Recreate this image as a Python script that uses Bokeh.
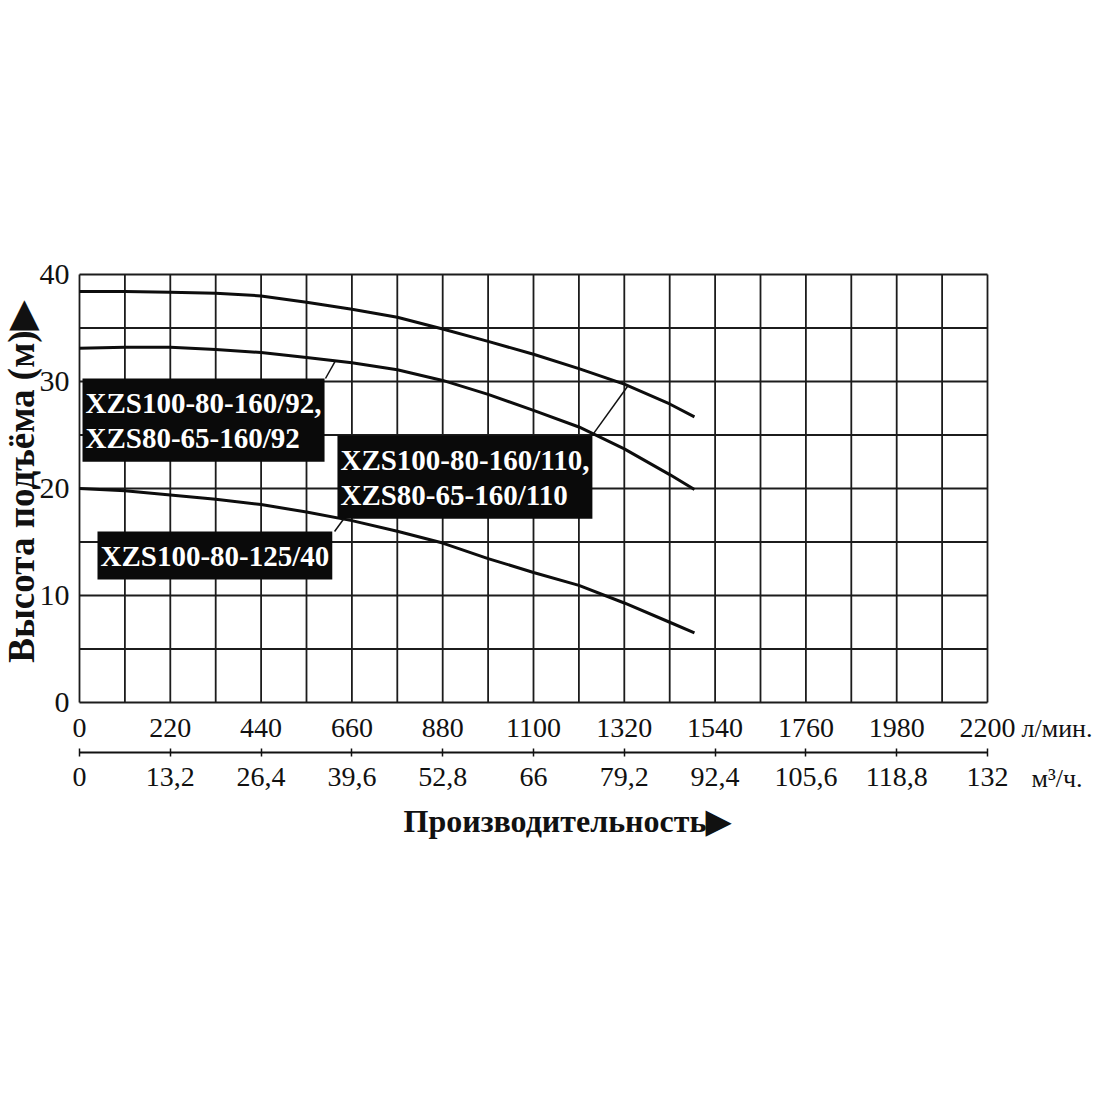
import numpy as np
from bokeh.plotting import figure
from bokeh.models import Range1d, LinearAxis, FixedTicker, Label, Grid
from bokeh.embed import file_html
from bokeh.resources import INLINE

# ---- data ----
flow_lmin = [0, 110, 220, 330, 440, 550, 660, 770, 880, 990, 1100, 1210, 1320, 1430, 1490]
head_110 = [38.4, 38.4, 38.35, 38.25, 38.0, 37.4, 36.75, 36.0, 34.9, 33.75, 32.55, 31.2, 29.75, 27.9, 26.7]
head_92 = [33.1, 33.2, 33.2, 33.0, 32.7, 32.25, 31.75, 31.1, 30.1, 28.8, 27.3, 25.75, 23.7, 21.3, 19.9]
head_40 = [20.0, 19.8, 19.4, 19.0, 18.5, 17.8, 17.0, 16.0, 14.9, 13.45, 12.15, 10.95, 9.3, 7.5, 6.5]

x_ticks = [0, 220, 440, 660, 880, 1100, 1320, 1540, 1760, 1980, 2200]
x_labels_lmin = ["0", "220", "440", "660", "880", "1100", "1320", "1540", "1760", "1980", "2200"]
x_labels_m3h = ["0", "13,2", "26,4", "39,6", "52,8", "66", "79,2", "92,4", "105,6", "118,8", "132"]
y_ticks = [0, 10, 20, 30, 40]
grid_x = list(range(0, 2201, 110))
grid_y = list(range(0, 41, 5))

name_92 = "XZS100-80-160/92,\nXZS80-65-160/92"
name_110 = "XZS100-80-160/110,\nXZS80-65-160/110"
name_40 = "XZS100-80-125/40"

SERIF = "Liberation Serif"
INK = "#111111"

# ---- layout: one frame over the whole canvas, plot area mapped inside it ----
W, H = 1092, 1000
PLOT_L, PLOT_W = 79, 908       # px of flow 0 and width of 0..2200
PLOT_B, PLOT_H = 702, 428      # px of head 0 and height of 0..40
XMAX, YMAX = 2200, 40
sx = XMAX / PLOT_W             # data units per px
sy = YMAX / PLOT_H

p = figure(frame_width=W, frame_height=H,
           x_range=Range1d(-PLOT_L * sx, (W - PLOT_L) * sx),
           y_range=Range1d(-(H - PLOT_B) * sy, PLOT_B * sy),
           x_axis_location=None, y_axis_location=None,
           min_border=0, output_backend="svg", toolbar_location=None)
p.background_fill_color = "white"
p.border_fill_color = "white"
p.outline_line_color = None
p.center = [r for r in p.center if not isinstance(r, Grid)]

# grid of the plot area
p.segment(x0=grid_x, y0=[0] * len(grid_x), x1=grid_x, y1=[YMAX] * len(grid_x),
          line_color="#1c1c1c", line_width=1.8)
p.segment(x0=[0] * len(grid_y), y0=grid_y, x1=[XMAX] * len(grid_y), y1=grid_y,
          line_color="#1c1c1c", line_width=1.8)

# y axis (head)
yax = LinearAxis(ticker=FixedTicker(ticks=y_ticks), fixed_location=0, bounds=(0, YMAX))
yax.axis_line_color = None
yax.major_tick_line_color = None
yax.minor_tick_line_color = None
yax.major_tick_out = 0
yax.major_tick_in = 0
yax.major_label_standoff = 10
yax.major_label_text_font = SERIF
yax.major_label_text_font_size = "30px"
yax.major_label_text_color = INK
p.add_layout(yax, "left")

# x axis (l/min)
ax1 = LinearAxis(ticker=FixedTicker(ticks=x_ticks), fixed_location=0, bounds=(0, XMAX),
                 major_label_overrides=dict(zip(x_ticks, x_labels_lmin)))
ax1.axis_line_color = None
ax1.major_tick_line_color = None
ax1.minor_tick_line_color = None
ax1.major_tick_out = 0
ax1.major_tick_in = 0
ax1.major_label_standoff = 16
ax1.major_label_text_font = SERIF
ax1.major_label_text_font_size = "28px"
ax1.major_label_text_color = INK
p.add_layout(ax1, "below")

# x axis (m3/h), drawn on its own line under the l/min labels
ax2 = LinearAxis(ticker=FixedTicker(ticks=x_ticks), fixed_location=-50 * sy, bounds=(0, XMAX),
                 major_label_overrides=dict(zip(x_ticks, x_labels_m3h)))
ax2.axis_line_color = INK
ax2.axis_line_width = 2
ax2.major_tick_line_color = INK
ax2.major_tick_line_width = 1.5
ax2.minor_tick_line_color = None
ax2.major_tick_out = 4
ax2.major_tick_in = 4
ax2.major_label_standoff = 11
ax2.major_label_text_font = SERIF
ax2.major_label_text_font_size = "28px"
ax2.major_label_text_color = INK
p.add_layout(ax2, "below")

# curves
for h in (head_110, head_92, head_40):
    p.line(flow_lmin, h, line_color="#0d0d0d", line_width=3)

# leader lines: from label box corner to a point on the curve
lead_x0 = [596, 1245, 618]
lead_y0 = [30.28, 25.1, 15.98]
lead_x1 = [620, 1329, 640]
lead_y1 = [float(np.interp(620, flow_lmin, head_92)),
           float(np.interp(1329, flow_lmin, head_110)),
           float(np.interp(640, flow_lmin, head_40))]
p.segment(lead_x0, lead_y0, lead_x1, lead_y1, line_color=INK, line_width=1.5)

def name_box(x, y, txt):
    return Label(x=x, y=y, text=txt, text_font=SERIF, text_font_style="bold",
                 text_font_size="29px", text_color="white", text_align="left",
                 text_baseline="top", text_line_height=1.1,
                 background_fill_color="#0a0a0a", padding=(3, 8))

p.add_layout(name_box(7.3, 30.28, name_92))
p.add_layout(name_box(625, 24.95, name_110))
p.add_layout(name_box(43.6, 15.98, name_40))

def outer_text(px, py, txt, size, bold=False, angle=0.0, align="left"):
    return Label(x=(px - PLOT_L) * sx, y=(PLOT_B - py) * sy, text=txt,
                 text_font=SERIF, text_font_style="bold" if bold else "normal",
                 text_font_size=size, text_color=INK, text_baseline="middle",
                 text_align=align, angle=angle)

p.add_layout(outer_text(1021, 728, "л/мин.", "26px"))
p.add_layout(outer_text(1031, 778, "м³/ч.", "26px"))
p.add_layout(outer_text(403, 820, "Производительность▶", "32px", bold=True))
p.add_layout(outer_text(20.5, 482, "Высота подъёма (м)▶", "37px", bold=True,
                        angle=np.pi / 2, align="center"))

open("out.html", "w").write(file_html(p, INLINE))
